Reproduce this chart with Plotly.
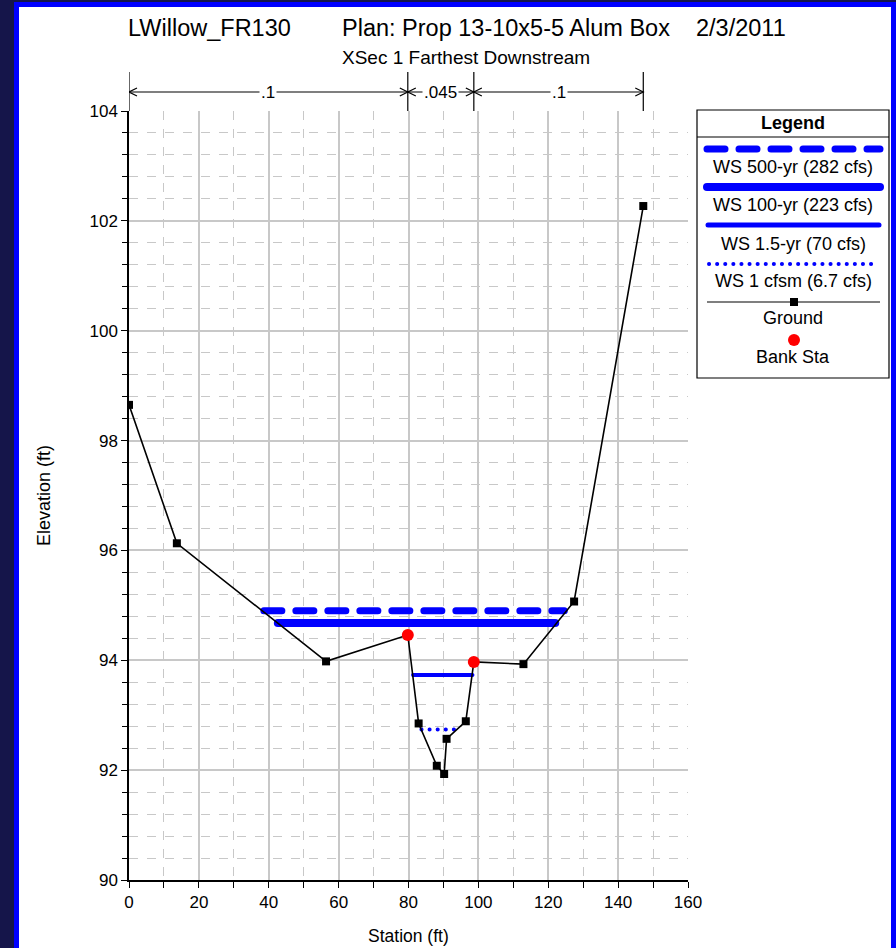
import plotly.graph_objects as go

# ---------------- data ----------------
ground_sta = [0, 13.7, 56.4, 79.8, 82.9, 88.1, 90.2, 90.9, 96.4, 98.7, 112.9, 127.4, 147.2]
ground_elev = [98.65, 96.13, 93.98, 94.46, 92.85, 92.08, 91.93, 92.57, 92.89, 93.97, 93.93, 95.07, 102.27]

bank_sta = [79.8, 98.7]
bank_elev = [94.46, 93.97]

ws500_sta = [38.6, 124.6]
ws500_elev = [94.90, 94.90]
ws100_sta = [42.6, 122.0]
ws100_elev = [94.68, 94.68]
ws15_sta = [81.3, 98.3]
ws15_elev = [93.73, 93.73]
wscfsm_sta = [83.7, 93.3]
wscfsm_elev = [92.74, 92.74]

n_breaks = [0, 79.8, 98.7, 147.2]
n_values = [".1", ".045", ".1"]

legend_labels = ["WS 500-yr (282 cfs)", "WS 100-yr (223 cfs)", "WS 1.5-yr (70 cfs)",
                 "WS 1 cfsm (6.7 cfs)", "Ground", "Bank Sta"]

title_parts = ["LWillow_FR130", "Plan: Prop 13-10x5-5 Alum Box", "2/3/2011"]
subtitle = "XSec 1 Farthest Downstream"
x_title = "Station (ft)"
y_title = "Elevation (ft)"

# ---------------- layout geometry ----------------
W, H = 896, 948
L, R, T, B = 129, 688, 111, 880
PW, PH = R - L, B - T


def xp(px):
    return (px - L) / PW


def yp(py):
    return (B - py) / PH


FONT = "Liberation Sans, Arial, sans-serif"
BLUE = "#0000ff"

fig = go.Figure()

fig.add_trace(go.Scatter(x=ws500_sta, y=ws500_elev, mode="lines",
                         line=dict(color=BLUE, width=7, dash="18px,14px"), name=legend_labels[0]))
fig.add_trace(go.Scatter(x=ws100_sta, y=ws100_elev, mode="lines",
                         line=dict(color=BLUE, width=8), name=legend_labels[1]))
fig.add_trace(go.Scatter(x=ws15_sta, y=ws15_elev, mode="lines",
                         line=dict(color=BLUE, width=4), name=legend_labels[2]))
fig.add_trace(go.Scatter(x=wscfsm_sta, y=wscfsm_elev, mode="lines",
                         line=dict(color=BLUE, width=4, dash="0.1px,8px"), name=legend_labels[3]))
fig.add_trace(go.Scatter(x=ground_sta, y=ground_elev, mode="lines+markers",
                         line=dict(color="black", width=1.6),
                         marker=dict(symbol="square", size=8, color="black"), name=legend_labels[4]))
fig.add_trace(go.Scatter(x=bank_sta, y=bank_elev, mode="markers",
                         marker=dict(symbol="circle", size=12, color="#ff0000"), name=legend_labels[5]))

shapes = []
# frame
shapes.append(dict(type="rect", xref="paper", yref="paper", x0=xp(14), x1=xp(896), y0=yp(2), y1=yp(948),
                   fillcolor=BLUE, line=dict(width=0), layer="below"))
shapes.append(dict(type="rect", xref="paper", yref="paper", x0=xp(19), x1=xp(891), y0=yp(7), y1=yp(948),
                   fillcolor="white", line=dict(width=0), layer="below"))

# n-value markers
ytop = yp(72)
yarr = yp(92)
for b in n_breaks:
    shapes.append(dict(type="line", xref="x", yref="paper", x0=b, x1=b, y0=1, y1=ytop,
                       line=dict(color="black", width=1.2)))
shapes.append(dict(type="line", xref="x", yref="paper", x0=n_breaks[0], x1=n_breaks[-1], y0=yarr, y1=yarr,
                   line=dict(color="black", width=1.2)))
ax = 8 / PW * 160
ay = 4 / PH
for i in range(len(n_breaks) - 1):
    a, b = n_breaks[i], n_breaks[i + 1]
    shapes.append(dict(type="path", xref="x", yref="paper",
                       path=f"M {a+ax},{yarr+ay} L {a},{yarr} L {a+ax},{yarr-ay}",
                       line=dict(color="black", width=1.2)))
    shapes.append(dict(type="path", xref="x", yref="paper",
                       path=f"M {b-ax},{yarr+ay} L {b},{yarr} L {b-ax},{yarr-ay}",
                       line=dict(color="black", width=1.2)))

# legend box
shapes.append(dict(type="rect", xref="paper", yref="paper", x0=xp(697), x1=xp(889), y0=yp(110), y1=yp(378),
                   fillcolor="white", line=dict(color="black", width=1.2), layer="above"))
shapes.append(dict(type="line", xref="paper", yref="paper", x0=xp(697), x1=xp(889), y0=yp(137), y1=yp(137),
                   line=dict(color="black", width=1.2)))
shapes.append(dict(type="line", xref="paper", yref="paper", x0=xp(707), x1=xp(880), y0=yp(149), y1=yp(149),
                   line=dict(color=BLUE, width=7, dash="18px,14px")))
shapes.append(dict(type="line", xref="paper", yref="paper", x0=xp(707), x1=xp(880), y0=yp(187), y1=yp(187),
                   line=dict(color=BLUE, width=8)))
shapes.append(dict(type="line", xref="paper", yref="paper", x0=xp(708), x1=xp(879), y0=yp(225), y1=yp(225),
                   line=dict(color=BLUE, width=5)))
shapes.append(dict(type="line", xref="paper", yref="paper", x0=xp(709), x1=xp(873), y0=yp(264), y1=yp(264),
                   line=dict(color=BLUE, width=4, dash="0.1px,8px")))
shapes.append(dict(type="line", xref="paper", yref="paper", x0=xp(707), x1=xp(880), y0=yp(302), y1=yp(302),
                   line=dict(color="black", width=1.2)))
shapes.append(dict(type="rect", xref="paper", yref="paper", x0=xp(790), x1=xp(798), y0=yp(298), y1=yp(306),
                   fillcolor="black", line=dict(width=0)))
shapes.append(dict(type="circle", xref="paper", yref="paper", x0=xp(788), x1=xp(800), y0=yp(334), y1=yp(346),
                   fillcolor="#ff0000", line=dict(width=0)))

annotations = []
# title
for txt, px in zip(title_parts, [126, 340, 694]):
    annotations.append(dict(text=txt, xref="paper", yref="paper", x=xp(px), y=yp(28),
                            xanchor="left", yanchor="middle", showarrow=False,
                            font=dict(family=FONT, size=23.5, color="black")))
annotations.append(dict(text=subtitle, xref="paper", yref="paper", x=xp(466), y=yp(57),
                        xanchor="center", yanchor="middle", showarrow=False,
                        font=dict(family=FONT, size=19, color="black")))
# axis titles
annotations.append(dict(text=x_title, xref="paper", yref="paper", x=xp(408.5), y=yp(936),
                        xanchor="center", yanchor="middle", showarrow=False,
                        font=dict(family=FONT, size=17.5, color="black")))
annotations.append(dict(text=y_title, xref="paper", yref="paper", x=xp(44), y=yp(496),
                        xanchor="center", yanchor="middle", showarrow=False, textangle=-90,
                        font=dict(family=FONT, size=18, color="black")))
for i, v in enumerate(n_values):
    annotations.append(dict(text=v, xref="x", yref="paper", x=(n_breaks[i] + n_breaks[i + 1]) / 2, y=yarr,
                            xanchor="center", yanchor="middle", showarrow=False, bgcolor="white",
                            borderpad=1, font=dict(family=FONT, size=17, color="black")))
# legend text
annotations.append(dict(text="<b>Legend</b>", xref="paper", yref="paper", x=xp(793), y=yp(123),
                        xanchor="center", yanchor="middle", showarrow=False,
                        font=dict(family=FONT, size=18, color="black")))
for txt, py in zip(legend_labels, [167, 205, 244, 281, 318, 357]):
    annotations.append(dict(text=txt, xref="paper", yref="paper", x=xp(793), y=yp(py),
                            xanchor="center", yanchor="middle", showarrow=False,
                            font=dict(family=FONT, size=18, color="black")))

grid = "#c8c8c8"
fig.update_layout(
    width=W, height=H, autosize=False,
    margin=dict(l=L, r=W - R, t=T, b=H - B, pad=0, autoexpand=False),
    paper_bgcolor="#15154a", plot_bgcolor="white",
    showlegend=False,
    shapes=shapes, annotations=annotations,
    xaxis=dict(range=[0, 160], tick0=0, dtick=20, showgrid=True, gridcolor=grid, gridwidth=1.5,
               showline=True, linecolor="black", linewidth=1.5, zeroline=False, automargin=False,
               ticks="outside", ticklen=6, tickcolor="black", tickwidth=1.2,
               tickfont=dict(family=FONT, size=17, color="black"),
               minor=dict(dtick=10, tick0=0, showgrid=True, gridcolor=grid, griddash="dash", gridwidth=1,
                          ticks="outside", ticklen=6, tickcolor="black", tickwidth=1.2)),
    yaxis=dict(range=[90, 104], tick0=90, dtick=2, showgrid=True, gridcolor=grid, gridwidth=1.5,
               showline=True, linecolor="black", linewidth=1.5, zeroline=False, automargin=False,
               ticks="outside", ticklen=6, tickcolor="black", tickwidth=1.2,
               tickfont=dict(family=FONT, size=17, color="black"),
               minor=dict(dtick=0.4, tick0=90, showgrid=True, gridcolor=grid, griddash="dash", gridwidth=1,
                          ticks="outside", ticklen=5, tickcolor="black", tickwidth=1.2)),
)

fig.write_html(
    "out.html",
    config={"displayModeBar": False},
    post_script=(
        "var s=document.documentElement.style;s.margin='0';s.padding='0';s.overflow='hidden';"
        "var b=document.body.style;b.margin='0';b.padding='0';b.overflow='hidden';"
        "document.querySelectorAll('.scatterlayer path.js-line, .shapelayer path').forEach(function(p){"
        "if((p.style.stroke||'').indexOf('0, 0, 255')>=0){p.style.strokeLinecap='round';}});"
    ),
)
